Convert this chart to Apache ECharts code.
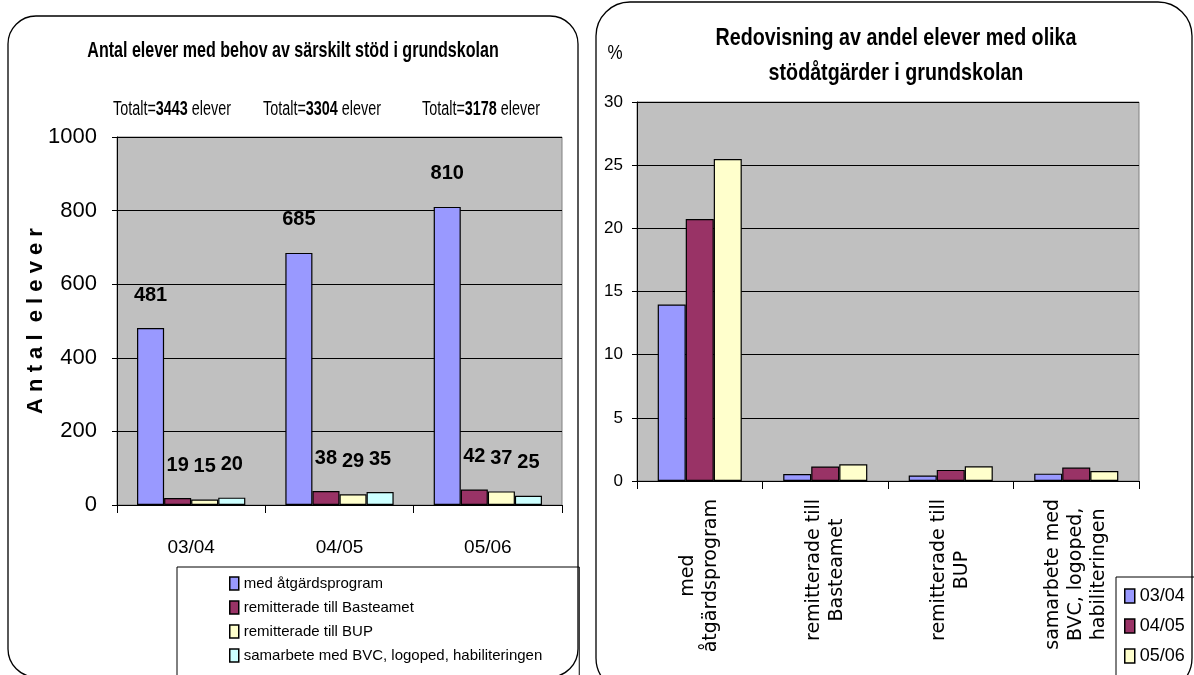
<!DOCTYPE html>
<html><head><meta charset="utf-8">
<script src="https://cdn.jsdelivr.net/npm/echarts@6/dist/echarts.min.js"></script>
<style>html,body{margin:0;padding:0;background:#fff}#c{width:1194px;height:675px}</style>
</head><body><div id="c"></div>
<script>
// ---- data ----
const years = ['03/04', '04/05', '05/06'];
const totals = [3443, 3304, 3178];
const supportTypes = ['med åtgärdsprogram', 'remitterade till Basteamet', 'remitterade till BUP', 'samarbete med BVC, logoped, habiliteringen'];
const countsAtgard = [481, 685, 810];
const countsBasteamet = [19, 38, 42];
const countsBUP = [15, 29, 37];
const countsSamarbete = [20, 35, 25];
const shareCategories = ['med\nåtgärdsprogram', 'remitterade till\nBasteamet', 'remitterade till\nBUP', 'samarbete med\nBVC, logoped,\nhabiliteringen'];
const share0304 = [13.97, 0.55, 0.44, 0.58];
const share0405 = [20.73, 1.15, 0.88, 1.06];
const share0506 = [25.49, 1.32, 1.16, 0.79];

// ---- style ----
const SANS = '"Liberation Sans", Arial, sans-serif';
const colors = ['#9999FF', '#993366', '#FFFFCC', '#CCFFFF'];
const totalsX = [172, 322, 481];

const chart = echarts.init(document.getElementById('c'));
const leftData = [countsAtgard, countsBasteamet, countsBUP, countsSamarbete];
const rightData = [share0304, share0405, share0506];

const leftSeries = leftData.map((d, i) => ({
  type: 'bar', name: supportTypes[i], xAxisIndex: 0, yAxisIndex: 0, data: d,
  barGap: '0%', barCategoryGap: '27%',
  itemStyle: { color: colors[i], borderColor: '#000', borderWidth: 1.2 },
  label: { show: true, position: 'top', distance: 23, fontFamily: SANS, fontWeight: 'bold', fontSize: 20, color: '#000' }
}));
const rightSeries = rightData.map((d, i) => ({
  type: 'bar', name: years[i], xAxisIndex: 1, yAxisIndex: 1, data: d,
  barGap: '0%', barCategoryGap: '33%',
  itemStyle: { color: colors[i], borderColor: '#000', borderWidth: 1.2 }
}));

const graphics = [
  { type: 'rect', shape: { x: 8, y: 16, width: 570, height: 661, r: 28 }, style: { fill: 'none', stroke: '#000', lineWidth: 1.3 }, z: -1 },
  { type: 'rect', shape: { x: 596, y: 2, width: 596, height: 690, r: 34 }, style: { fill: 'none', stroke: '#000', lineWidth: 1.3 }, z: -1 },
  { type: 'text', x: 293, y: 51, scaleX: 0.73, style: { text: 'Antal elever med behov av särskilt stöd i grundskolan', fontFamily: SANS, fontWeight: 'bold', fontSize: 22, fill: '#000', textAlign: 'center', textVerticalAlign: 'middle' } },
  { type: 'text', x: 896, y: 38, scaleX: 0.82, style: { text: 'Redovisning av andel elever med olika', fontFamily: SANS, fontWeight: 'bold', fontSize: 24, fill: '#000', textAlign: 'center', textVerticalAlign: 'middle' } },
  { type: 'text', x: 896, y: 73, scaleX: 0.82, style: { text: 'stödåtgärder i grundskolan', fontFamily: SANS, fontWeight: 'bold', fontSize: 24, fill: '#000', textAlign: 'center', textVerticalAlign: 'middle' } },
  { type: 'text', x: 615, y: 53, scaleX: 0.85, style: { text: '%', fontFamily: SANS, fontSize: 20, fill: '#000', textAlign: 'center', textVerticalAlign: 'middle' } }
];
totals.forEach((t, i) => {
  graphics.push({ type: 'text', x: totalsX[i], y: 109, scaleX: 0.72, style: {
    text: 'Totalt={b|' + t + '} elever', fontFamily: SANS, fontSize: 20, fill: '#000', textAlign: 'center', textVerticalAlign: 'middle',
    rich: { b: { fontFamily: SANS, fontSize: 20, fontWeight: 'bold', fill: '#000' } } } });
});

const option = {
  animation: false,
  backgroundColor: '#fff',
  color: colors,
  graphic: graphics,
  legend: [
    { data: supportTypes, orient: 'vertical', left: 177, top: 567, height: 200, itemWidth: 9, itemHeight: 13, itemGap: 9,
      padding: [9, 37, 40, 52], borderColor: '#000', borderWidth: 1, icon: 'rect',
      textStyle: { fontFamily: SANS, fontSize: 15, color: '#000' },
      itemStyle: { borderColor: '#000', borderWidth: 1.5 } },
    { data: years, orient: 'vertical', left: 1116, top: 577, height: 200, itemWidth: 10, itemHeight: 14, itemGap: 12,
      padding: [10, 20, 40, 8], borderColor: '#000', borderWidth: 1, icon: 'rect',
      textStyle: { fontFamily: SANS, fontSize: 18, color: '#000' },
      itemStyle: { borderColor: '#000', borderWidth: 1.5 } }
  ],
  grid: [
    { left: 117, top: 137, width: 445, height: 368, show: true, backgroundColor: '#C0C0C0', borderColor: '#808080', borderWidth: 1, containLabel: false, outerBoundsMode: 'none' },
    { left: 637, top: 102, width: 502, height: 379, show: true, backgroundColor: '#C0C0C0', borderColor: '#808080', borderWidth: 1, containLabel: false, outerBoundsMode: 'none' }
  ],
  xAxis: [
    { type: 'category', gridIndex: 0, data: years,
      axisLine: { show: true, lineStyle: { color: '#000', width: 1 } },
      axisTick: { show: true, length: 8, lineStyle: { color: '#000' } },
      axisLabel: { fontFamily: SANS, fontSize: 19, color: '#000', margin: 33 } },
    { type: 'category', gridIndex: 1, data: shareCategories,
      axisLine: { show: true, lineStyle: { color: '#000', width: 1 } },
      axisTick: { show: true, length: 8, lineStyle: { color: '#000' } },
      axisLabel: { interval: 0, rotate: 90, margin: 18,
        formatter: v => v.split('\n').map(s => '{c|' + s + '}').join('\n'),
        rich: { c: { align: 'center', fontFamily: '"DejaVu Sans", sans-serif', fontSize: 19, lineHeight: 23, color: '#000' } } } }
  ],
  yAxis: [
    { type: 'value', gridIndex: 0, min: 0, max: 1000, interval: 200,
      name: 'A n t a l  e l e v e r', nameLocation: 'middle', nameGap: 70, nameRotate: 90, nameMoveOverlap: false,
      nameTextStyle: { fontFamily: SANS, fontWeight: 'bold', fontSize: 22, color: '#000' },
      axisLine: { show: true, lineStyle: { color: '#000', width: 1 } },
      axisTick: { show: true, length: 5, lineStyle: { color: '#000' } },
      splitLine: { show: true, lineStyle: { color: '#000', width: 1 } },
      axisLabel: { fontFamily: SANS, fontSize: 22, color: '#000', margin: 20, formatter: v => String(v) } },
    { type: 'value', gridIndex: 1, min: 0, max: 30, interval: 5,
      axisLine: { show: true, lineStyle: { color: '#000', width: 1 } },
      axisTick: { show: true, length: 5, lineStyle: { color: '#000' } },
      splitLine: { show: true, lineStyle: { color: '#000', width: 1 } },
      axisLabel: { fontFamily: SANS, fontSize: 17, color: '#000', margin: 14 } }
  ],
  series: leftSeries.concat(rightSeries)
};
chart.setOption(option);
</script>
</body></html>
